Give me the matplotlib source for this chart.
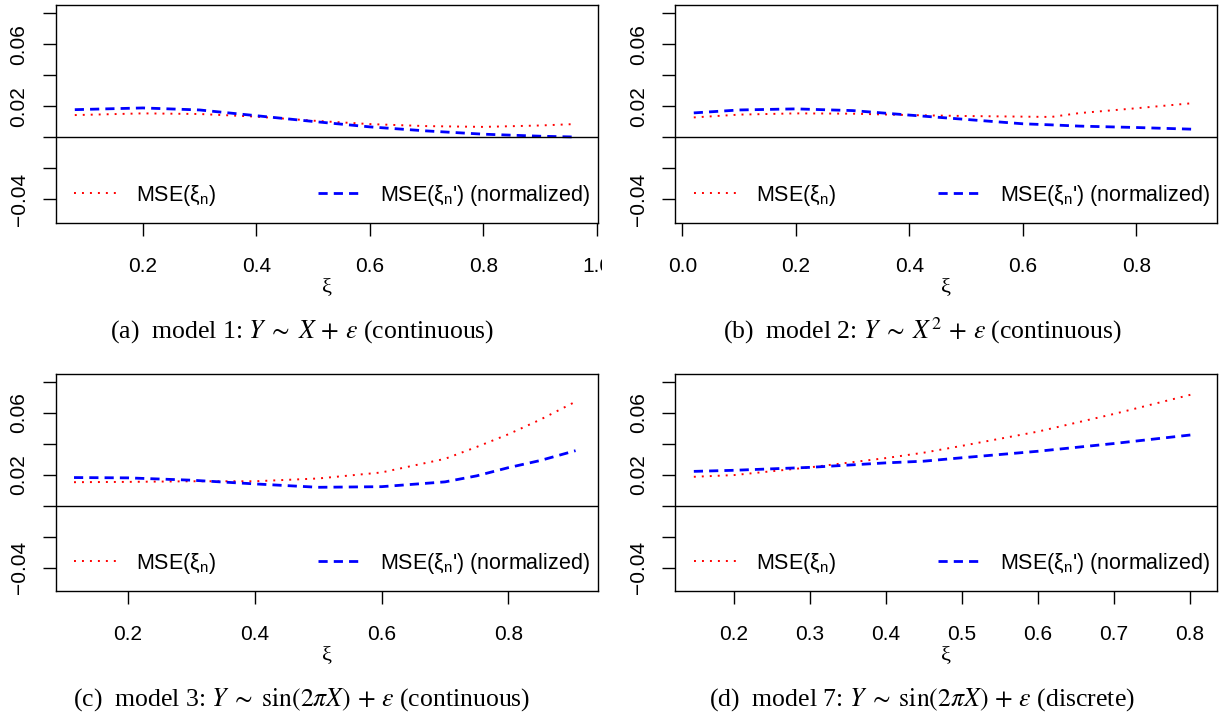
import matplotlib
matplotlib.use("Agg")
import matplotlib.pyplot as plt
from matplotlib.transforms import Bbox, TransformedBbox

# ---------------- data ----------------
# (a) model 1
xi_a = [0.08, 0.2, 0.3, 0.4, 0.5, 0.6, 0.7, 0.8, 0.9, 0.96]
mse_a = [0.0143, 0.0154, 0.0150, 0.0133, 0.0107, 0.0085, 0.0072, 0.0067, 0.0076, 0.0085]
mse_norm_a = [0.0178, 0.0189, 0.0176, 0.0139, 0.0102, 0.0067, 0.0041, 0.0020, 0.0007, 0.0002]

# (b) model 2
xi_b = [0.02, 0.1, 0.2, 0.3, 0.4, 0.5, 0.6, 0.65, 0.7, 0.8, 0.9]
mse_b = [0.0128, 0.0146, 0.0154, 0.0152, 0.0143, 0.0137, 0.0133, 0.0131, 0.0156, 0.0187, 0.0220]
mse_norm_b = [0.0157, 0.0176, 0.0183, 0.0172, 0.0143, 0.0115, 0.0087, 0.0080, 0.0072, 0.0063, 0.0052]

# (c) model 3
xi_c = [0.115, 0.2, 0.3, 0.4, 0.5, 0.6, 0.7, 0.75, 0.8, 0.85, 0.906]
mse_c = [0.0152, 0.0154, 0.0158, 0.0158, 0.0176, 0.0215, 0.0303, 0.0380, 0.0462, 0.0556, 0.0673]
mse_norm_c = [0.0182, 0.0180, 0.0165, 0.0141, 0.0119, 0.0123, 0.0154, 0.0193, 0.0246, 0.0292, 0.0356]

# (d) model 7
xi_d = [0.147, 0.2, 0.3, 0.4, 0.45, 0.5, 0.6, 0.7, 0.804]
mse_d = [0.0187, 0.0198, 0.0248, 0.0308, 0.0343, 0.0387, 0.0479, 0.0593, 0.0721]
mse_norm_d = [0.0222, 0.0229, 0.0248, 0.0277, 0.0288, 0.0310, 0.0352, 0.0402, 0.0459]

xticks_a = [0.2, 0.4, 0.6, 0.8, 1.0]
xticks_b = [0.0, 0.2, 0.4, 0.6, 0.8]
xticks_c = [0.2, 0.4, 0.6, 0.8]
xticks_d = [0.2, 0.3, 0.4, 0.5, 0.6, 0.7, 0.8]

yticks = [-0.04, -0.02, 0.0, 0.02, 0.04, 0.06, 0.08]
ylabels = ["\u22120.04", "", "", "0.02", "", "0.06", ""]

captions = [
    r"(a)  model 1: $Y\;\sim\;X\,+\,\varepsilon$ (continuous)",
    r"(b)  model 2: $Y\;\sim\;X^2\,+\,\varepsilon$ (continuous)",
    r"(c)  model 3: $Y\;\sim\;\sin(2\pi X)\,+\,\varepsilon$ (continuous)",
    r"(d)  model 7: $Y\;\sim\;\sin(2\pi X)\,+\,\varepsilon$ (discrete)",
]
lab_mse = r"MSE($\mathregular{\xi_n}$)"
lab_norm = r"MSE($\mathregular{\xi_n}$') (normalized)"

# ---------------- figure ----------------
plt.rcParams["font.family"] = "Liberation Sans"
plt.rcParams["mathtext.fontset"] = "stix"
plt.rcParams["axes.linewidth"] = 1.0

W, H = 1228, 718
fig = plt.figure(figsize=(W / 100, H / 100), dpi=100)

# left, top, right, bottom of each plot box in pixels
boxes = [(55.5, 5, 598, 223), (675.4, 5, 1217.3, 223),
         (55.5, 374, 598, 591), (675.4, 374, 1217.3, 591)]
xlims = [(0.046, 1.002), (-0.0124, 0.9428), (0.0858, 0.9414), (0.1227, 0.8366)]
panels = [(xi_a, mse_a, mse_norm_a, xticks_a),
          (xi_b, mse_b, mse_norm_b, xticks_b),
          (xi_c, mse_c, mse_norm_c, xticks_c),
          (xi_d, mse_d, mse_norm_d, xticks_d)]
cap_pos = [(302, 338), (922, 338), (302, 706), (922, 706)]

ylo, yhi = -0.05, 0.08
ypad = 0.04 * (yhi - ylo)

for i, (x, m1, m2, xt) in enumerate(panels):
    l, t, r, b = boxes[i]
    ax = fig.add_axes([l / W, 1 - b / H, (r - l) / W, (b - t) / H])
    ax.plot(x, m1, color="red", lw=1.4, linestyle=(0, (1, 3.1)), label=lab_mse)
    ax.plot(x, m2, color="blue", lw=2.0, linestyle=(0, (3.3, 2.2)), label=lab_norm)
    ax.axhline(0, color="black", lw=1.0)
    ax.set_xlim(*xlims[i])
    ax.set_ylim(ylo - ypad, yhi + ypad)

    ax.set_xticks(xt)
    ax.set_xticklabels([f"{v:.1f}" for v in xt])
    ax.set_yticks(yticks)
    ax.set_yticklabels(ylabels)
    ax.tick_params(axis="x", length=9.4, width=1.0, pad=15, labelsize=15)
    ax.tick_params(axis="y", length=9.4, width=1.0, pad=10, labelsize=15, labelrotation=90)
    for lab in ax.get_yticklabels():
        lab.set_va("center")

    # xi label sits about 65 px below the box
    ax.set_xlabel("\u03be", fontsize=16, family="Liberation Serif")
    ax.xaxis.label.set_va("center")
    ax.xaxis.set_label_coords(0.5, -65 / (b - t))

    ax.legend(loc="center left", bbox_to_anchor=(0.034, 0.128), ncol=2, frameon=False,
              fontsize=15.5, handlelength=2.0, handletextpad=0.9, columnspacing=4.7,
              borderpad=0, borderaxespad=0)

    cx, cy = cap_pos[i]
    fig.text(cx / W, 1 - cy / H, captions[i], ha="center", va="baseline",
             fontsize=18.5, family="Liberation Serif")

    if i == 0:
        # the "1.0" label is cut at the panel edge in the original
        clip = TransformedBbox(Bbox([[0, 0], [602 / W, 1]]), fig.transFigure)
        lab = ax.xaxis.get_major_ticks()[-1].label1
        lab.set_clip_box(clip)
        lab.set_clip_on(True)

fig.savefig("out.png", dpi=100)
